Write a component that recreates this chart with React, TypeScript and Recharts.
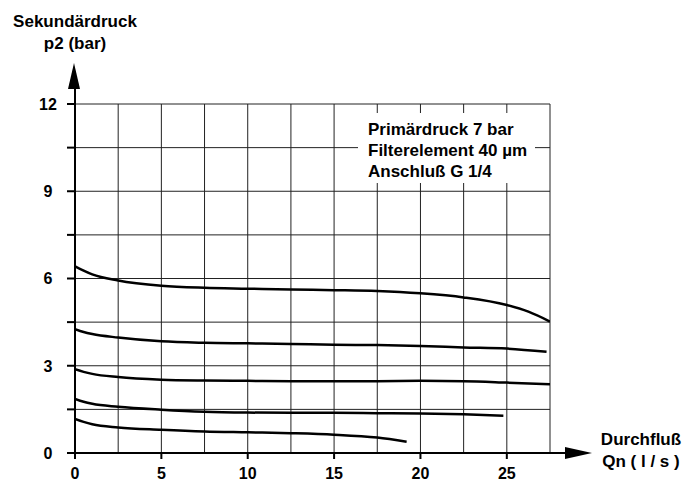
import React from 'react';
import { LineChart, Line, XAxis, YAxis, ReferenceLine } from 'recharts';

// Qn (l/s) vs. secondary pressure p2 (bar), one curve per set pressure
const curveTop = [
  { x: 0, y: 6.42 }, { x: 0.5, y: 6.27 }, { x: 1, y: 6.14 }, { x: 2.5, y: 5.93 },
  { x: 5, y: 5.75 }, { x: 7.5, y: 5.68 }, { x: 10, y: 5.65 }, { x: 12.5, y: 5.62 },
  { x: 15, y: 5.6 }, { x: 17.5, y: 5.57 }, { x: 20, y: 5.49 }, { x: 22.5, y: 5.35 },
  { x: 25, y: 5.09 }, { x: 26.25, y: 4.86 }, { x: 27.5, y: 4.52 },
];
const curve4 = [
  { x: 0, y: 4.26 }, { x: 0.5, y: 4.16 }, { x: 1, y: 4.09 }, { x: 2.5, y: 3.97 },
  { x: 5, y: 3.84 }, { x: 7.5, y: 3.79 }, { x: 10, y: 3.77 }, { x: 12.5, y: 3.75 },
  { x: 15, y: 3.72 }, { x: 17.5, y: 3.71 }, { x: 20, y: 3.68 }, { x: 22.5, y: 3.63 },
  { x: 25, y: 3.59 }, { x: 27.3, y: 3.48 },
];
const curve3 = [
  { x: 0, y: 2.88 }, { x: 0.5, y: 2.79 }, { x: 1, y: 2.72 }, { x: 2.5, y: 2.61 },
  { x: 5, y: 2.52 }, { x: 7.5, y: 2.49 }, { x: 10, y: 2.48 }, { x: 12.5, y: 2.47 },
  { x: 15, y: 2.47 }, { x: 17.5, y: 2.47 }, { x: 20, y: 2.48 }, { x: 22.5, y: 2.47 },
  { x: 25, y: 2.42 }, { x: 27.5, y: 2.36 },
];
const curve2 = [
  { x: 0, y: 1.86 }, { x: 0.5, y: 1.76 }, { x: 1, y: 1.69 }, { x: 2.5, y: 1.59 },
  { x: 5, y: 1.49 }, { x: 7.5, y: 1.42 }, { x: 10, y: 1.39 }, { x: 12.5, y: 1.38 },
  { x: 15, y: 1.38 }, { x: 17.5, y: 1.37 }, { x: 20, y: 1.36 }, { x: 22.5, y: 1.33 },
  { x: 24.8, y: 1.28 },
];
const curve1 = [
  { x: 0, y: 1.17 }, { x: 0.5, y: 1.07 }, { x: 1, y: 0.99 }, { x: 2.5, y: 0.88 },
  { x: 5, y: 0.8 }, { x: 7.5, y: 0.74 }, { x: 10, y: 0.71 }, { x: 12.5, y: 0.68 },
  { x: 15, y: 0.63 }, { x: 17.5, y: 0.53 }, { x: 19.2, y: 0.39 },
];

const xTicks = [0, 5, 10, 15, 20, 25];
const yTicks = [0, 1.5, 3, 4.5, 6, 7.5, 9, 10.5, 12];
const xGrid = [2.5, 5, 7.5, 10, 12.5, 15, 17.5, 20, 22.5, 25, 27.5];
const yGrid = [1.5, 3, 4.5, 6, 7.5, 9, 10.5, 12];

const curves = [curveTop, curve4, curve3, curve2, curve1];
const infoLines = ['Primärdruck 7 bar', 'Filterelement 40 µm', 'Anschluß G 1/4'];

const FONT = '"Liberation Sans", Arial, sans-serif';
const tickStyle = { fill: '#000', fontSize: 16, fontWeight: 700, fontFamily: FONT };
const textStyle = { fill: '#000', fontSize: 17, fontWeight: 700, fontFamily: FONT };

const YTick = (props: any) => {
  const { x, y, payload } = props;
  const v = payload.value as number;
  if (v % 3 !== 0) return <g />;
  return (
    <text x={x} y={y} dy="0.36em" textAnchor="middle" style={tickStyle}>
      {v}
    </text>
  );
};

export default function App() {
  return (
    <div style={{ position: 'absolute', left: 0, top: 0, width: 696, height: 481, background: '#fff' }}>
      <LineChart width={696} height={481} margin={{ top: 104, right: 146, bottom: 0, left: 35 }}>
        <XAxis
          type="number"
          dataKey="x"
          domain={[0, 27.5]}
          ticks={xTicks}
          allowDataOverflow
          height={28}
          tickSize={6}
          tickMargin={9}
          tick={tickStyle}
          stroke="#000"
          strokeWidth={2}
        />
        <YAxis
          type="number"
          dataKey="y"
          domain={[0, 12]}
          ticks={yTicks}
          allowDataOverflow
          width={40}
          tickSize={8}
          tickMargin={19}
          tick={<YTick />}
          stroke="#000"
          strokeWidth={2}
        />
        {yGrid.map((v) => (
          <ReferenceLine key={'h' + v} y={v} stroke="#222" strokeWidth={1} />
        ))}
        {xGrid.map((v) => (
          <ReferenceLine key={'v' + v} x={v} stroke="#222" strokeWidth={1} />
        ))}
        {curves.map((d, i) => (
          <Line
            key={i}
            data={d}
            dataKey="y"
            type="monotone"
            stroke="#000"
            strokeWidth={2.5}
            dot={false}
            isAnimationActive={false}
          />
        ))}
      </LineChart>
      <svg width={696} height={481} style={{ position: 'absolute', left: 0, top: 0, pointerEvents: 'none' }}>
        {/* axis arrows */}
        <line x1={75} y1={104} x2={75} y2={86} stroke="#000" strokeWidth={2} />
        <polygon points="68,89 80,89 74,63" fill="#000" />
        <line x1={550} y1={453} x2={568} y2={453} stroke="#000" strokeWidth={2} />
        <polygon points="565,447 565,459 592,453" fill="#000" />
        {/* info box */}
        <rect x={358} y={113} width={177} height={70} fill="#fff" />
        {infoLines.map((t, i) => (
          <text key={t} x={368} y={135 + i * 21} style={textStyle}>
            {t}
          </text>
        ))}
        <text x={75} y={27} textAnchor="middle" style={textStyle}>Sekundärdruck</text>
        <text x={75} y={49} textAnchor="middle" style={textStyle}>p2 (bar)</text>
        <text x={641} y={445} textAnchor="middle" style={textStyle}>Durchfluß</text>
        <text x={641} y={467} textAnchor="middle" style={textStyle}>Qn ( l / s )</text>
      </svg>
    </div>
  );
}
